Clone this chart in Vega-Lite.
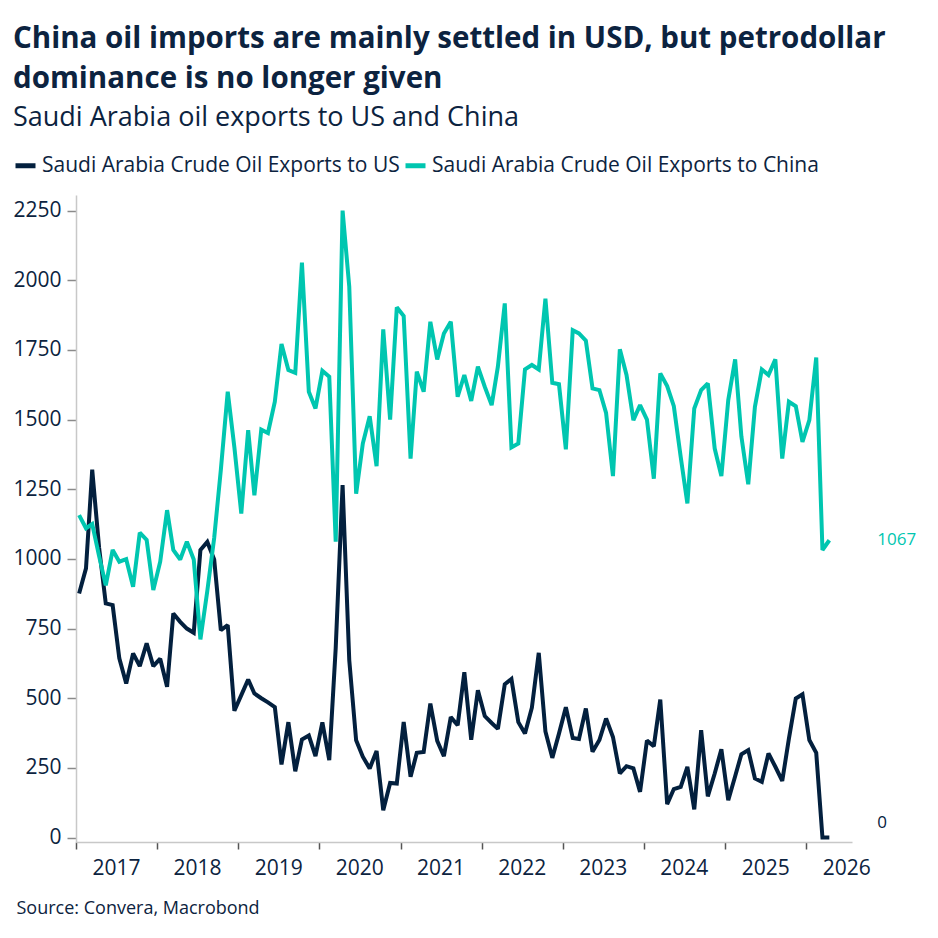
{
  "$schema": "https://vega.github.io/schema/vega-lite/v6.json",
  "width": 776,
  "height": 647,
  "padding": {"left": 12, "top": 23, "right": 0, "bottom": 0},
  "background": "white",
  "config": {
    "font": "Open Sans",
    "view": {"stroke": null},
    "axis": {"grid": false, "labelColor": "#0c2340", "labelFont": "Open Sans"}
  },
  "title": {
    "text": ["China oil imports are mainly settled in USD, but petrodollar", "dominance is no longer given"],
    "subtitle": "Saudi Arabia oil exports to US and China",
    "anchor": "start",
    "frame": "bounds",
    "font": "Open Sans",
    "fontSize": 29.5,
    "fontWeight": "bold",
    "lineHeight": 40,
    "color": "#0c2340",
    "subtitleFont": "Open Sans",
    "subtitleFontSize": 27,
    "subtitleColor": "#0c2340",
    "subtitlePadding": 11,
    "offset": 21
  },
  "data": {
    "values": [
      {"d":"2017-01-15","us":876,"cn":1157},{"d":"2017-02-15","us":966,"cn":1110},{"d":"2017-03-15","us":1320,"cn":1125},{"d":"2017-04-15","us":1040,"cn":1010},{"d":"2017-05-15","us":840,"cn":905},{"d":"2017-06-15","us":834,"cn":1032},{"d":"2017-07-15","us":643,"cn":990},{"d":"2017-08-15","us":553,"cn":999},{"d":"2017-09-15","us":661,"cn":900},{"d":"2017-10-15","us":615,"cn":1094},{"d":"2017-11-15","us":697,"cn":1068},{"d":"2017-12-15","us":615,"cn":888},
      {"d":"2018-01-15","us":642,"cn":990},{"d":"2018-02-15","us":541,"cn":1175},{"d":"2018-03-15","us":804,"cn":1032},{"d":"2018-04-15","us":774,"cn":998},{"d":"2018-05-15","us":750,"cn":1062},{"d":"2018-06-15","us":735,"cn":998},{"d":"2018-07-15","us":1032,"cn":711},{"d":"2018-08-15","us":1061,"cn":885},{"d":"2018-09-15","us":998,"cn":1075},{"d":"2018-10-15","us":744,"cn":1320},{"d":"2018-11-15","us":762,"cn":1600},{"d":"2018-12-15","us":455,"cn":1400},
      {"d":"2019-01-15","us":511,"cn":1163},{"d":"2019-02-15","us":567,"cn":1462},{"d":"2019-03-15","us":517,"cn":1228},{"d":"2019-04-15","us":500,"cn":1464},{"d":"2019-05-15","us":485,"cn":1452},{"d":"2019-06-15","us":468,"cn":1564},{"d":"2019-07-15","us":262,"cn":1771},{"d":"2019-08-15","us":414,"cn":1678},{"d":"2019-09-15","us":238,"cn":1668},{"d":"2019-10-15","us":352,"cn":2063},{"d":"2019-11-15","us":366,"cn":1600},{"d":"2019-12-15","us":292,"cn":1540},
      {"d":"2020-01-15","us":413,"cn":1675},{"d":"2020-02-15","us":278,"cn":1654},{"d":"2020-03-15","us":680,"cn":1062},{"d":"2020-04-15","us":1265,"cn":2250},{"d":"2020-05-15","us":637,"cn":1977},{"d":"2020-06-15","us":349,"cn":1234},{"d":"2020-07-15","us":290,"cn":1414},{"d":"2020-08-15","us":248,"cn":1512},{"d":"2020-09-15","us":311,"cn":1333},{"d":"2020-10-15","us":98,"cn":1824},{"d":"2020-11-15","us":196,"cn":1500},{"d":"2020-12-15","us":194,"cn":1903},
      {"d":"2021-01-15","us":415,"cn":1872},{"d":"2021-02-15","us":218,"cn":1360},{"d":"2021-03-15","us":304,"cn":1672},{"d":"2021-04-15","us":307,"cn":1600},{"d":"2021-05-15","us":481,"cn":1851},{"d":"2021-06-15","us":347,"cn":1716},{"d":"2021-07-15","us":292,"cn":1809},{"d":"2021-08-15","us":432,"cn":1851},{"d":"2021-09-15","us":403,"cn":1582},{"d":"2021-10-15","us":593,"cn":1660},{"d":"2021-11-15","us":351,"cn":1567},{"d":"2021-12-15","us":529,"cn":1690},
      {"d":"2022-01-15","us":436,"cn":1618},{"d":"2022-02-15","us":411,"cn":1552},{"d":"2022-03-15","us":390,"cn":1690},{"d":"2022-04-15","us":550,"cn":1917},{"d":"2022-05-15","us":569,"cn":1400},{"d":"2022-06-15","us":414,"cn":1414},{"d":"2022-07-15","us":373,"cn":1680},{"d":"2022-08-15","us":466,"cn":1696},{"d":"2022-09-15","us":663,"cn":1680},{"d":"2022-10-15","us":381,"cn":1934},{"d":"2022-11-15","us":286,"cn":1632},{"d":"2022-12-15","us":373,"cn":1627},
      {"d":"2023-01-15","us":468,"cn":1393},{"d":"2023-02-15","us":357,"cn":1821},{"d":"2023-03-15","us":354,"cn":1809},{"d":"2023-04-15","us":463,"cn":1783},{"d":"2023-05-15","us":308,"cn":1612},{"d":"2023-06-15","us":350,"cn":1606},{"d":"2023-07-15","us":427,"cn":1524},{"d":"2023-08-15","us":361,"cn":1297},{"d":"2023-09-15","us":230,"cn":1752},{"d":"2023-10-15","us":256,"cn":1660},{"d":"2023-11-15","us":248,"cn":1498},{"d":"2023-12-15","us":164,"cn":1552},
      {"d":"2024-01-15","us":348,"cn":1500},{"d":"2024-02-15","us":328,"cn":1288},{"d":"2024-03-15","us":495,"cn":1666},{"d":"2024-04-15","us":120,"cn":1620},{"d":"2024-05-15","us":174,"cn":1548},{"d":"2024-06-15","us":182,"cn":1366},{"d":"2024-07-15","us":254,"cn":1199},{"d":"2024-08-15","us":101,"cn":1540},{"d":"2024-09-15","us":385,"cn":1606},{"d":"2024-10-15","us":148,"cn":1630},{"d":"2024-11-15","us":230,"cn":1396},{"d":"2024-12-15","us":317,"cn":1297},
      {"d":"2025-01-15","us":134,"cn":1570},{"d":"2025-02-15","us":220,"cn":1716},{"d":"2025-03-15","us":299,"cn":1440},{"d":"2025-04-15","us":314,"cn":1268},{"d":"2025-05-15","us":212,"cn":1546},{"d":"2025-06-15","us":200,"cn":1680},{"d":"2025-07-15","us":302,"cn":1660},{"d":"2025-08-15","us":254,"cn":1716},{"d":"2025-09-15","us":203,"cn":1360},{"d":"2025-10-15","us":355,"cn":1564},{"d":"2025-11-15","us":499,"cn":1548},{"d":"2025-12-15","us":514,"cn":1420},
      {"d":"2026-01-15","us":350,"cn":1498},{"d":"2026-02-15","us":304,"cn":1723},{"d":"2026-03-15","us":0,"cn":1032},{"d":"2026-04-15","us":0,"cn":1067}
    ]
  },
  "transform": [
    {"fold": ["us", "cn"], "as": ["key", "value"]},
    {"calculate": "datum.key == 'us' ? 'Saudi Arabia Crude Oil Exports to US' : 'Saudi Arabia Crude Oil Exports to China'", "as": "series"}
  ],
  "encoding": {
    "x": {
      "field": "d", "type": "temporal",
      "scale": {"type": "utc", "domain": [{"year": 2017, "month": 1, "date": 1, "utc": true}, {"year": 2026, "month": 7, "date": 26, "utc": true}]},
      "axis": {
        "values": [
          {"year": 2017, "month": 1, "date": 1, "utc": true}, {"year": 2018, "month": 1, "date": 1, "utc": true},
          {"year": 2019, "month": 1, "date": 1, "utc": true}, {"year": 2020, "month": 1, "date": 1, "utc": true},
          {"year": 2021, "month": 1, "date": 1, "utc": true}, {"year": 2022, "month": 1, "date": 1, "utc": true},
          {"year": 2023, "month": 1, "date": 1, "utc": true}, {"year": 2024, "month": 1, "date": 1, "utc": true},
          {"year": 2025, "month": 1, "date": 1, "utc": true}, {"year": 2026, "month": 1, "date": 1, "utc": true}
        ],
        "format": "%Y",
        "labelOffset": 40,
        "labelAlign": "center",
        "labelFlush": false,
        "labelOverlap": false,
        "labelFontSize": 21,
        "labelPadding": 8,
        "tickSize": 7,
        "tickColor": "#555555",
        "tickWidth": 1.5,
        "domainColor": "#c8c8c8",
        "domainWidth": 1.5,
        "title": "Source: Convera, Macrobond",
        "titleAnchor": "start",
        "titleAlign": "left",
        "titleBaseline": "middle",
        "titleX": -60,
        "titleY": 66,
        "titleFontSize": 18,
        "titleFontWeight": "normal",
        "titleColor": "#0c2340",
        "titleFont": "Open Sans",
        "titleLimit": 400
      }
    },
    "y": {
      "field": "value", "type": "quantitative",
      "scale": {"domain": [-16, 2306], "nice": false, "zero": false},
      "axis": {
        "values": [0, 250, 500, 750, 1000, 1250, 1500, 1750, 2000, 2250],
        "format": "d",
        "title": null,
        "labelFontSize": 21,
        "labelPadding": 6,
        "tickSize": 9,
        "tickColor": "#8a8a8a",
        "tickWidth": 1.5,
        "domainColor": "#c8c8c8",
        "domainWidth": 1.5
      }
    },
    "color": {
      "field": "series", "type": "nominal",
      "scale": {
        "domain": ["Saudi Arabia Crude Oil Exports to US", "Saudi Arabia Crude Oil Exports to China"],
        "range": ["#03203e", "#00c6b0"]
      },
      "legend": {
        "title": null,
        "orient": "none",
        "direction": "horizontal",
        "legendX": -63,
        "legendY": -42,
        "symbolType": "stroke",
        "symbolStrokeWidth": 5,
        "symbolSize": 400,
        "labelFontSize": 21,
        "labelLimit": 0,
        "labelColor": "#0c2340",
        "labelFont": "Open Sans",
        "columnPadding": -5,
        "labelOffset": 4
      }
    }
  },
  "layer": [
    {"mark": {"type": "line", "strokeWidth": 4, "strokeJoin": "miter", "strokeMiterLimit": 2}},
    {
      "transform": [{"filter": "utcyear(datum.d) == 2026 && utcmonth(datum.d) == 3 && datum.key == 'cn'"}],
      "mark": {"type": "text", "align": "left", "baseline": "middle", "dx": 48, "fontSize": 17, "font": "Open Sans"},
      "encoding": {"text": {"field": "value", "type": "quantitative", "format": "d"}}
    },
    {
      "transform": [{"filter": "utcyear(datum.d) == 2026 && utcmonth(datum.d) == 3 && datum.key == 'us'"}],
      "mark": {"type": "text", "align": "left", "baseline": "middle", "dx": 48, "dy": -15, "fontSize": 17, "font": "Open Sans"},
      "encoding": {"text": {"field": "value", "type": "quantitative", "format": "d"}}
    }
  ]
}
